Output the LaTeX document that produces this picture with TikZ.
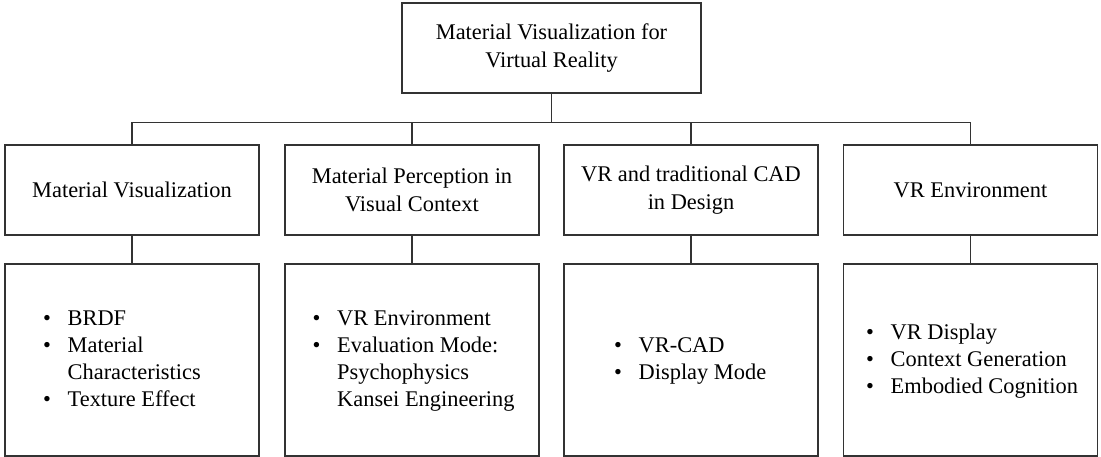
\documentclass[tikz,border=0pt]{standalone}
\usepackage{fontspec}
\setmainfont{Liberation Serif}
\usepackage{array}
\begin{document}
\begin{tikzpicture}[x=1pt,y=-1pt,
  frame/.style={draw=black!80, line width=1.2pt},
  topbox/.style={frame, minimum width=299pt, minimum height=90pt, align=center,
    inner sep=0pt, font=\fontsize{22.4}{28}\selectfont},
  catbox/.style={frame, minimum width=254pt, minimum height=90pt, align=center,
    inner sep=0pt, font=\fontsize{22.4}{28}\selectfont},
  itembox/.style={frame, minimum width=254pt, minimum height=192pt, inner sep=0pt},
  itemlist/.style={anchor=west, inner sep=0pt, font=\fontsize{22.4}{27}\selectfont},
  link/.style={draw=black!80, line width=1.2pt}
]
\useasboundingbox (0,0) rectangle (1101,457);

% root
\node[topbox] (root) at (551.5,48) {Material Visualization for\\Virtual Reality};

% categories
\node[catbox] (c1) at (132,190)   {Material Visualization};
\node[catbox] (c2) at (412,190)   {Material Perception in\\Visual Context};
\node[catbox] (c3) at (691,190)   {VR and traditional CAD\\in Design};
\node[catbox] (c4) at (970.5,190) {VR Environment};

% detail boxes
\node[itembox] (d1) at (132,360)   {};
\node[itembox] (d2) at (412,360)   {};
\node[itembox] (d3) at (691,360)   {};
\node[itembox] (d4) at (970.5,360) {};

% bullet lists
\node[itemlist] (l1) at (43,361) {\begin{tabular}{@{}p{24.5pt}@{}l@{}}
  \textbullet & BRDF\\
  \textbullet & Material\\
              & Characteristics\\
  \textbullet & Texture Effect
\end{tabular}};
\node[itemlist] (l2) at (312.5,361) {\begin{tabular}{@{}p{24.5pt}@{}l@{}}
  \textbullet & VR Environment\\
  \textbullet & Evaluation Mode:\\
              & Psychophysics\\
              & Kansei Engineering
\end{tabular}};
\node[itemlist] (l3) at (614,361) {\begin{tabular}{@{}p{24.5pt}@{}l@{}}
  \textbullet & VR-CAD\\
  \textbullet & Display Mode
\end{tabular}};
\node[itemlist] (l4) at (866,361) {\begin{tabular}{@{}p{24.5pt}@{}l@{}}
  \textbullet & VR Display\\
  \textbullet & Context Generation\\
  \textbullet & Embodied Cognition
\end{tabular}};

% tree connectors
\coordinate (bar) at (0,122.5);
\draw[link] (root.south) -- (root.south |- bar);
\draw[link] (c1.north) -- (c1.north |- bar) -| (c4.north);
\draw[link] (c2.north) -- (c2.north |- bar);
\draw[link] (c3.north) -- (c3.north |- bar);
\draw[link] (c1.south) -- (d1.north);
\draw[link] (c2.south) -- (d2.north);
\draw[link] (c3.south) -- (d3.north);
\draw[link] (c4.south) -- (d4.north);
\end{tikzpicture}
\end{document}
